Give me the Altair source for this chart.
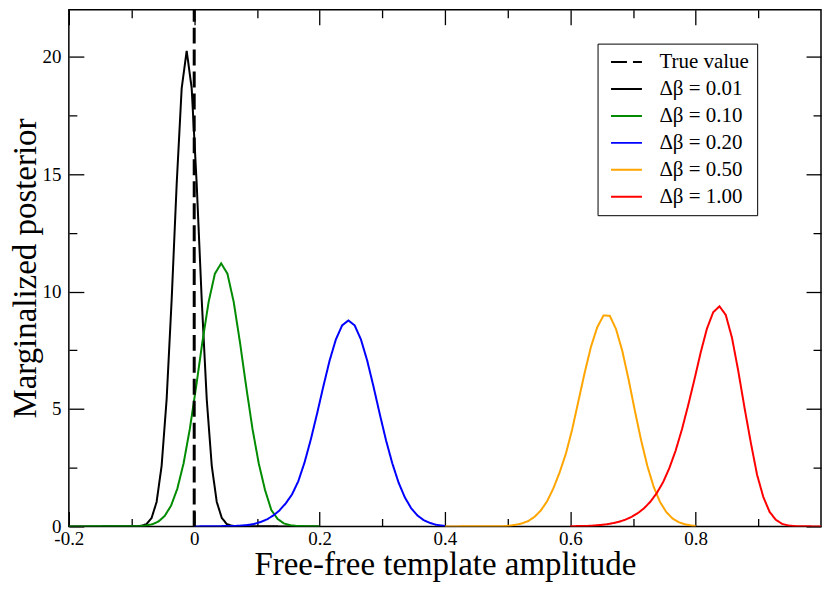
import altair as alt
import pandas as pd

SERIES = ["True value", "Δβ = 0.01", "Δβ = 0.10", "Δβ = 0.20", "Δβ = 0.50", "Δβ = 1.00"]
COLORS = ["#000000", "#000000", "#008b00", "#0000ff", "#ffa500", "#ff0000"]
DASHES = [[16, 6], [1, 0], [1, 0], [1, 0], [1, 0], [1, 0]]

true_x = [0.0, 0.0]
true_y = [0.0, 22.0]

black_x = [-0.2, -0.092, -0.084, -0.076, -0.068, -0.060, -0.052, -0.044, -0.036, -0.028, -0.020, -0.012,
           -0.004, 0.004, 0.012, 0.020, 0.028, 0.036, 0.044, 0.052, 0.060, 0.068, 0.2]
black_y = [0.0, 0.005, 0.03, 0.10, 0.36, 1.04, 2.58, 5.41, 9.64, 14.56, 18.65, 20.25,
           18.65, 14.56, 9.64, 5.41, 2.58, 1.04, 0.36, 0.10, 0.03, 0.005, 0.0]

green_x = [-0.2, -0.087, -0.077, -0.067, -0.057, -0.047, -0.037, -0.027, -0.017, -0.007, 0.003, 0.013,
           0.023, 0.033, 0.043, 0.053, 0.063, 0.073, 0.083, 0.093, 0.103, 0.113, 0.123, 0.133, 0.143,
           0.153, 0.163, 0.2]
green_y = [0.0, 0.01, 0.04, 0.09, 0.21, 0.45, 0.88, 1.60, 2.68, 4.15, 5.94, 7.84,
           9.56, 10.76, 11.2, 10.76, 9.56, 7.84, 5.94, 4.15, 2.68, 1.55, 0.70, 0.32, 0.13,
           0.05, 0.02, 0.0]

blue_x = [0.0, 0.066, 0.086, 0.096, 0.106, 0.116, 0.126, 0.136, 0.146, 0.156, 0.166, 0.176, 0.186,
          0.196, 0.206, 0.216, 0.226, 0.236, 0.246, 0.256, 0.266, 0.276, 0.286, 0.296, 0.306, 0.316,
          0.326, 0.336, 0.346, 0.356, 0.366, 0.376, 0.386, 0.4]
blue_y = [0.0, 0.02, 0.06, 0.11, 0.19, 0.30, 0.46, 0.68, 0.98, 1.36, 1.92, 2.72, 3.70,
          4.80, 5.96, 7.06, 7.96, 8.56, 8.77, 8.56, 7.96, 7.06, 5.96, 4.79, 3.67, 2.69,
          1.87, 1.24, 0.78, 0.47, 0.27, 0.15, 0.07, 0.02]

orange_x = [0.4, 0.493, 0.503, 0.513, 0.523, 0.533, 0.543, 0.553, 0.563, 0.573, 0.583, 0.593, 0.603,
            0.613, 0.623, 0.633, 0.643, 0.653, 0.663, 0.673, 0.683, 0.693, 0.703, 0.713, 0.723,
            0.733, 0.743, 0.753, 0.763, 0.773, 0.783, 0.793, 0.8]
orange_y = [0.0, 0.01, 0.03, 0.07, 0.13, 0.23, 0.41, 0.68, 1.07, 1.62, 2.30, 3.10, 4.13,
            5.34, 6.55, 7.65, 8.48, 8.98, 8.97, 8.40, 7.47, 6.26, 4.93, 3.67, 2.57,
            1.69, 1.05, 0.62, 0.34, 0.18, 0.09, 0.04, 0.02]

red_x = [0.6, 0.628, 0.638, 0.648, 0.658, 0.668, 0.678, 0.688, 0.698, 0.708, 0.718, 0.728, 0.738,
         0.748, 0.758, 0.768, 0.778, 0.788, 0.798, 0.808, 0.818, 0.828, 0.838, 0.848, 0.858,
         0.868, 0.878, 0.888, 0.898, 0.908, 0.918, 0.928, 0.938, 0.948, 0.958, 0.968, 1.0]
red_y = [0.01, 0.02, 0.04, 0.06, 0.09, 0.14, 0.20, 0.29, 0.41, 0.57, 0.78, 1.06, 1.42,
         1.88, 2.48, 3.22, 4.12, 5.15, 6.25, 7.40, 8.42, 9.12, 9.37, 9.01, 8.03,
         6.62, 5.05, 3.57, 2.20, 1.25, 0.62, 0.28, 0.11, 0.04, 0.015, 0.005, 0.0]

x_major = [-0.2, 0.0, 0.2, 0.4, 0.6, 0.8]
x_minor = [-0.1, 0.1, 0.3, 0.5, 0.7, 0.9]
y_major = [0, 5, 10, 15, 20]
y_minor = [2.5, 7.5, 12.5, 17.5]
x_ends = [-0.2, 1.0]
y_ends = [0.0, 22.0]

curves = [
    (SERIES[1], black_x, black_y),
    (SERIES[2], green_x, green_y),
    (SERIES[3], blue_x, blue_y),
    (SERIES[4], orange_x, orange_y),
    (SERIES[5], red_x, red_y),
]
rows = []
for name, xs, ys in curves:
    for i, (a, b) in enumerate(zip(xs, ys)):
        rows.append({"series": name, "x": a, "y": b, "i": i})
curves_df = pd.DataFrame(rows)
truth_df = pd.DataFrame({"series": [SERIES[0]] * 2, "x": true_x, "y": true_y, "i": [0, 1]})

FONT = "Liberation Serif"
x_scale = alt.Scale(domain=x_ends, nice=False, zero=False)
y_scale = alt.Scale(domain=y_ends, nice=False, zero=False)
color_scale = alt.Scale(domain=SERIES, range=COLORS)
dash_scale = alt.Scale(domain=SERIES, range=DASHES)

X_MINOR_TEST = "abs(datum.value * 5 - round(datum.value * 5)) > 0.01"
Y_MINOR_TEST = "datum.value % 5 != 0"
x_tick_dash = {"condition": {"test": X_MINOR_TEST, "value": [0, 7, 8, 0]}, "value": [15, 0]}
y_tick_dash = {"condition": {"test": Y_MINOR_TEST, "value": [0, 7, 8, 0]}, "value": [15, 0]}

tick_style = dict(ticks=True, tickSize=15, tickColor="black", tickWidth=1.3, offset=-15,
                  domain=False, grid=False)

x_axis = alt.Axis(values=x_major + x_minor,
                  labelExpr="abs(datum.value * 5 - round(datum.value * 5)) < 0.01 ? toString(datum.value) : ''",
                  title="Free-free template amplitude", titleFont=FONT, titleFontSize=33,
                  titleFontWeight="normal", titleColor="black", titlePadding=0, labelFont=FONT,
                  labelFontSize=19, labelColor="black", labelPadding=3, labelFlush=False,
                  labelOverlap=False, tickDash=x_tick_dash, **tick_style)
y_axis = alt.Axis(values=y_major + y_minor,
                  labelExpr="datum.value % 5 == 0 ? toString(datum.value) : ''",
                  title="Marginalized posterior", titleFont=FONT, titleFontSize=33,
                  titleFontWeight="normal", titleColor="black", titlePadding=-1, labelFont=FONT,
                  labelFontSize=19, labelColor="black", labelPadding=8, labelFlush=False,
                  labelOverlap=False, tickDash=y_tick_dash, **tick_style)
x_axis_top = alt.Axis(orient="top", values=x_major + x_minor, labels=False, title=None,
                      tickDash=x_tick_dash, **tick_style)
y_axis_right = alt.Axis(orient="right", values=y_major + y_minor, labels=False, title=None,
                        tickDash=y_tick_dash, **tick_style)

legend = alt.Legend(title=None, orient="none", legendX=530, legendY=34, fillColor="white",
                    strokeColor="black", padding=8, symbolType="M-0.625,0H3.25", symbolSize=256,
                    symbolStrokeWidth=2, labelFont=FONT, labelFontSize=21, labelColor="black",
                    labelOffset=33, rowPadding=5, labelLimit=300)

lines = alt.Chart(curves_df).mark_line(strokeWidth=2, clip=True).encode(
    x=alt.X("x:Q", scale=x_scale, axis=x_axis),
    y=alt.Y("y:Q", scale=y_scale, axis=y_axis),
    color=alt.Color("series:N", scale=color_scale, legend=legend),
    strokeDash=alt.StrokeDash("series:N", scale=dash_scale, legend=legend),
    order="i:Q",
)
truth = alt.Chart(truth_df).mark_line(strokeWidth=3, clip=True).encode(
    x=alt.X("x:Q", scale=x_scale, axis=x_axis_top),
    y=alt.Y("y:Q", scale=y_scale, axis=y_axis_right),
    color=alt.Color("series:N", scale=color_scale, legend=legend),
    strokeDash=alt.StrokeDash("series:N", scale=dash_scale, legend=legend),
    order="i:Q",
)

chart = alt.layer(lines, truth).resolve_axis(
    x="independent", y="independent"
).properties(
    width=754, height=518, padding={"left": 2, "top": 0, "right": 0, "bottom": 0}, background="white"
).configure_view(stroke="black", strokeWidth=1.5)

chart.save("out.html", embed_options={"renderer": "svg", "actions": False})
